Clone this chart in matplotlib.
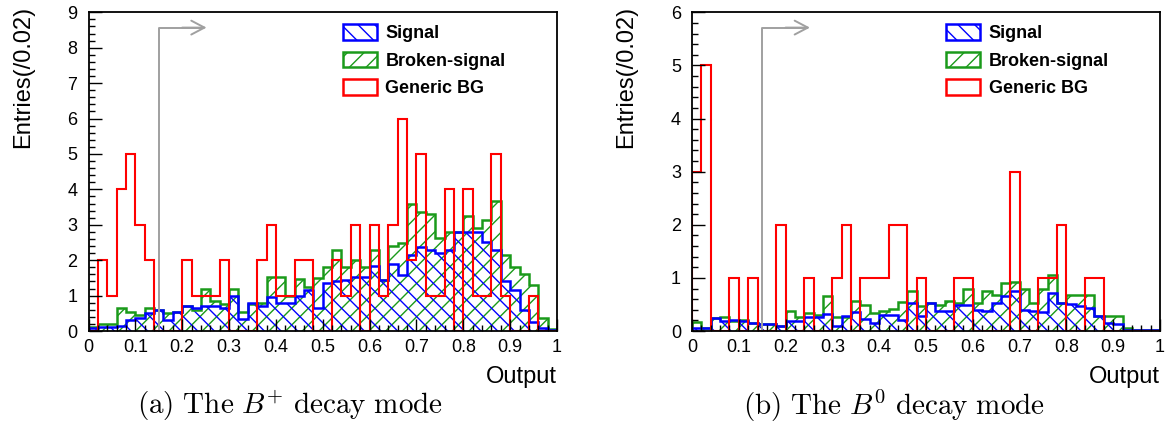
import numpy as np
import matplotlib.pyplot as plt
from matplotlib.patches import Patch
from matplotlib.ticker import MultipleLocator

plt.rcParams['font.family'] = ['Liberation Sans', 'DejaVu Sans']
plt.rcParams['mathtext.fontset'] = 'cm'
plt.rcParams['hatch.linewidth'] = 1.0

# bin contents per 0.02 of NN output (50 bins from 0 to 1)
# (a) B+ decay mode
signal_a = [0.08, 0.1, 0.1, 0.15, 0.31, 0.36, 0.5, 0.6, 0.31, 0.55,
            0.7, 0.66, 0.7, 0.7, 0.64, 1.0, 0.34, 0.8, 0.72, 0.95,
            0.8, 0.8, 1.0, 1.16, 0.66, 1.35, 1.4, 1.44, 1.52, 1.52,
            1.84, 1.44, 1.9, 1.58, 2.15, 2.36, 2.3, 2.2, 2.3, 2.8,
            2.8, 2.8, 2.5, 2.3, 1.4, 1.16, 0.6, 0.25, 0.08, 0.03]
broken_a = [0.1, 0.2, 0.2, 0.65, 0.55, 0.45, 0.65, 0.6, 0.5, 0.55,
            0.7, 0.6, 1.2, 0.85, 0.75, 1.2, 0.55, 0.76, 0.8, 1.52,
            1.52, 1.0, 1.46, 1.25, 1.5, 1.8, 2.3, 1.8, 2.0, 1.8,
            2.3, 1.44, 2.4, 2.48, 3.6, 3.36, 3.3, 2.62, 2.8, 2.8,
            3.26, 2.92, 3.14, 3.66, 2.15, 1.8, 1.6, 1.3, 0.36, 0.05]
generic_a = [0, 2, 1, 4, 5, 3, 2, 0, 0, 0,
             2, 1, 1, 1, 2, 0, 0, 0, 2, 3,
             1, 1, 2, 2, 0, 0, 2, 1, 3, 0,
             3, 1, 3, 6, 2, 5, 1, 1, 4, 0,
             4, 1, 1, 5, 1, 0, 0, 1, 0, 0]

# (b) B0 decay mode
signal_b = [0.05, 0.06, 0.24, 0.18, 0.2, 0.18, 0.16, 0.13, 0.14, 0.1,
            0.18, 0.18, 0.27, 0.27, 0.32, 0.09, 0.29, 0.35, 0.22, 0.16,
            0.3, 0.3, 0.21, 0.52, 0.28, 0.53, 0.37, 0.37, 0.49, 0.49,
            0.4, 0.37, 0.53, 0.65, 0.75, 0.4, 0.37, 0.35, 0.72, 0.52,
            0.5, 0.47, 0.43, 0.29, 0.16, 0.13, 0.02, 0.02, 0.02, 0.02]
broken_b = [0.17, 0.06, 0.24, 0.26, 0.19, 0.2, 0.16, 0.14, 0.14, 0.1,
            0.37, 0.27, 0.33, 0.3, 0.65, 0.26, 0.26, 0.56, 0.49, 0.33,
            0.38, 0.41, 0.55, 0.75, 0.48, 0.53, 0.49, 0.56, 0.53, 0.79,
            0.53, 0.75, 0.68, 0.9, 0.92, 0.79, 0.53, 0.79, 1.06, 0.53,
            0.68, 0.68, 0.68, 0.29, 0.29, 0.29, 0.05, 0.02, 0.02, 0.02]
generic_b = [3, 5, 0, 0, 1, 0, 1, 0, 0, 2,
             0, 0, 1, 0, 0, 1, 2, 0, 1, 1,
             1, 2, 2, 0, 1, 0, 0, 0, 1, 1,
             0, 0, 0, 0, 3, 0, 0, 1, 1, 2,
             0, 0, 1, 1, 0, 0, 0, 0, 0, 0]

labels = ['Signal', 'Broken-signal', 'Generic BG']
x_ticks = [0, 0.1, 0.2, 0.3, 0.4, 0.5, 0.6, 0.7, 0.8, 0.9, 1]
x_tick_labels = ['0', '0.1', '0.2', '0.3', '0.4', '0.5', '0.6', '0.7', '0.8', '0.9', '1']
cut = 0.15

blue = '#0000ff'
green = '#1a9a1a'
red = '#ff0000'
gray = '#a0a0a0'


def draw_panel(ax, sig, brk, gen, ymax):
    edges = np.linspace(0, 1, len(sig) + 1)
    # hatched areas first, outlines on top
    ax.stairs(brk, edges, fill=True, facecolor='none', edgecolor=green,
              hatch='//', linewidth=0)
    ax.stairs(sig, edges, fill=True, facecolor='none', edgecolor=blue,
              hatch='\\\\', linewidth=0)
    ax.stairs(brk, edges, baseline=0, color=green, linewidth=1.8)
    ax.stairs(sig, edges, baseline=0, color=blue, linewidth=1.8)
    ax.stairs(gen, edges, baseline=0, color=red, linewidth=1.5)

    ax.set_xlim(0, 1)
    ax.set_ylim(0, ymax)
    ax.set_xticks(x_ticks)
    ax.set_xticklabels(x_tick_labels)
    ax.xaxis.set_minor_locator(MultipleLocator(0.02))
    ax.yaxis.set_major_locator(MultipleLocator(1))
    ax.yaxis.set_minor_locator(MultipleLocator(0.2))
    ax.tick_params(which='both', direction='in', top=False, right=False,
                   labelsize=13, width=1)
    ax.tick_params(which='major', length=9)
    ax.tick_params(which='minor', length=4.5)
    ax.tick_params(axis='y', pad=8)
    ax.tick_params(axis='x', pad=6)
    for s in ax.spines.values():
        s.set_linewidth(1.3)
        s.set_zorder(5)

    # cut arrow
    ax.plot([cut, cut, 0.245], [0, 0.952, 0.952], color=gray, lw=1.4,
            transform=ax.get_xaxis_transform(), clip_on=False)
    ax.annotate('', xy=(0.252, 0.952), xytext=(0.2, 0.952),
                xycoords=ax.get_xaxis_transform(),
                arrowprops=dict(arrowstyle='->, head_length=0.95, head_width=0.5',
                                color=gray, lw=1.4, shrinkA=0, shrinkB=0,
                                mutation_scale=10))

    handles = [Patch(facecolor='none', edgecolor=blue, hatch='\\\\', lw=1.8),
               Patch(facecolor='none', edgecolor=green, hatch='//', lw=1.8),
               Patch(facecolor='none', edgecolor=red, lw=1.8)]
    ax.legend(handles, labels, loc='upper left', bbox_to_anchor=(0.543, 0.962),
              frameon=False, borderpad=0, borderaxespad=0,
              handlelength=1.9, handleheight=0.95, handletextpad=0.45,
              labelspacing=0.52, prop={'weight': 'bold', 'size': 13})


fig = plt.figure(figsize=(11.71, 4.46), dpi=100)
ax_a = fig.add_axes([88.5 / 1171, 115 / 446, 468.5 / 1171, 318.7 / 446])
ax_b = fig.add_axes([692 / 1171, 115 / 446, 468 / 1171, 318.7 / 446])

draw_panel(ax_a, signal_a, broken_a, generic_a, 9)
draw_panel(ax_b, signal_b, broken_b, generic_b, 6)

# axis titles
fig.text(23 / 1171, 1 - 6 / 446, 'Entries(/0.02)', rotation=90,
         ha='center', va='top', fontsize=17)
fig.text(626 / 1171, 1 - 6 / 446, 'Entries(/0.02)', rotation=90,
         ha='center', va='top', fontsize=17)
fig.text(557 / 1171, 1 - 383 / 446, 'Output', ha='right', va='baseline', fontsize=17)
fig.text(1160 / 1171, 1 - 383 / 446, 'Output', ha='right', va='baseline', fontsize=17)

# captions
fig.text(290 / 1171, 1 - 406 / 446,
         r'$\mathrm{(a)\ The\ }B^{+}\mathrm{\ decay\ mode}$',
         ha='center', va='center', fontsize=21)
fig.text(894 / 1171, 1 - 406 / 446,
         r'$\mathrm{(b)\ The\ }B^{0}\mathrm{\ decay\ mode}$',
         ha='center', va='center', fontsize=21)

plt.savefig('out.png', dpi=100)
